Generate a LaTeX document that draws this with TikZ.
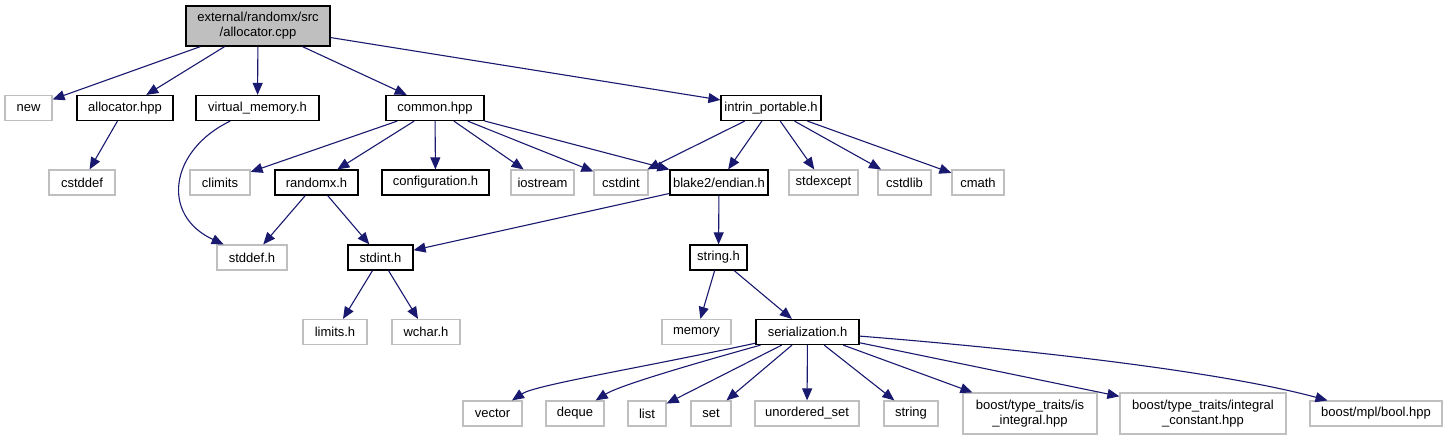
\documentclass[tikz,border=0pt]{standalone}
\usepackage{fontspec}
\setmainfont{Liberation Sans}
\usetikzlibrary{arrows.meta}
\definecolor{edgec}{HTML}{191970}
\definecolor{greyb}{HTML}{BFBFBF}
\begin{document}
\begin{tikzpicture}[x=1pt,y=-1pt,
  box/.style={draw=black, line width=1.2pt, inner sep=0pt, minimum height=25pt,
    font=\fontsize{13}{15}\selectfont, align=center},
  gbox/.style={box, draw=greyb},
  rootbox/.style={box, fill=greyb, minimum height=40pt},
  tallbox/.style={gbox, minimum height=41pt},
  dep/.style={draw=edgec, line width=1.1pt, -{Triangle[length=12pt,width=10pt]}}
]
\fill[white] (0,0) rectangle (1448,440);
\useasboundingbox (0,0) rectangle (1448,440);

% row 0
\node[rootbox, minimum width=144pt] (root) at (258,26) {external/randomx/src\\/allocator.cpp};
% row 1
\node[gbox, minimum width=47pt]  (new)   at (28.5,108) {new};
\node[box,  minimum width=96pt]  (alloc) at (125,108) {allocator.hpp};
\node[box,  minimum width=123pt] (vm)    at (257.5,108) {virtual\_memory.h};
\node[box,  minimum width=98pt]  (common) at (435,108) {common.hpp};
\node[box,  minimum width=100pt] (intrin) at (771,108) {intrin\_portable.h};
% row 2
\node[gbox, minimum width=66pt]  (cstddef) at (82,182.5) {cstddef};
\node[gbox, minimum width=60pt]  (climits) at (220,182.5) {climits};
\node[box,  minimum width=83pt]  (randomx) at (316.5,182.5) {randomx.h};
\node[box,  minimum width=107pt] (config) at (435.5,182.5) {configuration.h};
\node[gbox, minimum width=63pt]  (iostream) at (542.5,182.5) {iostream};
\node[gbox, minimum width=54pt]  (cstdint) at (621,182.5) {cstdint};
\node[box,  minimum width=98pt]  (endian) at (719,182.5) {blake2/endian.h};
\node[gbox, minimum width=69pt]  (stdexcept) at (823.5,182.5) {stdexcept};
\node[gbox, minimum width=53pt]  (cstdlib) at (904.5,182.5) {cstdlib};
\node[gbox, minimum width=52pt]  (cmath) at (978,182.5) {cmath};
% row 3
\node[gbox, minimum width=70pt]  (stddef) at (252,257.5) {stddef.h};
\node[box,  minimum width=65pt]  (stdint) at (380.5,257.5) {stdint.h};
\node[box,  minimum width=57pt]  (stringh) at (718.5,257.5) {string.h};
% row 4
\node[gbox, minimum width=64pt]  (limits) at (335,332) {limits.h};
\node[gbox, minimum width=68pt]  (wchar) at (426,332) {wchar.h};
\node[gbox, minimum width=69pt]  (memory) at (696.5,332) {memory};
\node[box,  minimum width=103pt] (ser) at (807.5,332) {serialization.h};
% row 5
\node[gbox, minimum width=59pt]  (vector) at (492.5,413.5) {vector};
\node[gbox, minimum width=58pt]  (deque) at (575,413.5) {deque};
\node[gbox, minimum width=38pt]  (list) at (647,413.5) {list};
\node[gbox, minimum width=40pt]  (set) at (711,413.5) {set};
\node[gbox, minimum width=104pt] (uset) at (807,413.5) {unordered\_set};
\node[gbox, minimum width=54pt]  (string) at (911,413.5) {string};
\node[tallbox, minimum width=134pt] (isint) at (1030,413.5) {boost/type\_traits/is\\\_integral.hpp};
\node[tallbox, minimum width=166pt] (intconst) at (1203,413.5) {boost/type\_traits/integral\\\_constant.hpp};
\node[gbox, minimum width=132pt] (bool) at (1376,413.5) {boost/mpl/bool.hpp};

% edges
\draw[dep] (root) -- (new);
\draw[dep] (root) -- (alloc);
\draw[dep] (root) -- (vm);
\draw[dep] (root) -- (common);
\draw[dep] (root) -- (intrin);
\draw[dep] (alloc) -- (cstddef);
\draw[dep] (vm) .. controls (170,150) and (160,215) .. (stddef);
\draw[dep] (common) -- (climits);
\draw[dep] (common) -- (randomx);
\draw[dep] (common) -- (config);
\draw[dep] (common) -- (iostream);
\draw[dep] (common) -- (cstdint);
\draw[dep] (common) -- (endian);
\draw[dep] (intrin) -- (cstdint);
\draw[dep] (intrin) -- (endian);
\draw[dep] (intrin) -- (stdexcept);
\draw[dep] (intrin) -- (cstdlib);
\draw[dep] (intrin) -- (cmath);
\draw[dep] (randomx) -- (stddef);
\draw[dep] (randomx) -- (stdint);
\draw[dep] (endian) -- (stdint);
\draw[dep] (endian) -- (stringh);
\draw[dep] (stdint) -- (limits);
\draw[dep] (stdint) -- (wchar);
\draw[dep] (stringh) -- (memory);
\draw[dep] (stringh) -- (ser);
\draw[dep] (ser) .. controls (640,368) and (535,385) .. (vector);
\draw[dep] (ser) .. controls (700,362) and (620,385) .. (deque);
\draw[dep] (ser) -- (list);
\draw[dep] (ser) -- (set);
\draw[dep] (ser) -- (uset);
\draw[dep] (ser) -- (string);
\draw[dep] (ser) -- (isint);
\draw[dep] (ser) -- (intconst);
\draw[dep] (ser) .. controls (960,344) and (1200,366) .. (bool);
\end{tikzpicture}
\end{document}
